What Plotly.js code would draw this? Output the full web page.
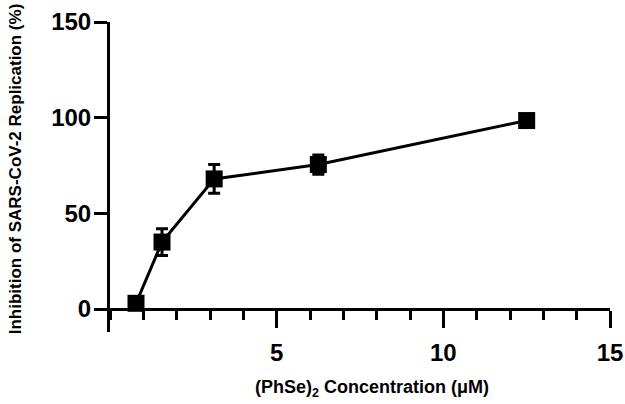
<!DOCTYPE html>
<html>
<head>
<meta charset="utf-8">
<script src="https://cdn.plot.ly/plotly-3.0.1.min.js"></script>
<style>
  html, body { margin: 0; padding: 0; background: #fff; }
  #chart { width: 625px; height: 404px; }
</style>
</head>
<body>
<div id="chart"></div>
<script>
// (PhSe)2 concentrations in uM and inhibition (%)
const conc = [0.78, 1.56, 3.125, 6.25, 12.5];
const inhibition = [3, 35, 68, 75.5, 98.5];
const errInhib = [2, 7, 7.5, 5, 3];
const xTicks = [5, 10, 15];
const yTicks = [0, 50, 100, 150];

const fontFam = "Liberation Sans, Arial, sans-serif";

const trace = {
  x: conc,
  y: inhibition,
  type: "scatter",
  mode: "lines+markers",
  line: { color: "#000", width: 3 },
  marker: { symbol: "square", size: 17, color: "#000" },
  error_y: { type: "data", array: errInhib, visible: true, color: "#000", thickness: 3, width: 6 },
  cliponaxis: false,
  showlegend: false
};

const layout = {
  width: 625,
  height: 404,
  margin: { l: 110, r: 15, t: 22, b: 72 },
  paper_bgcolor: "#fff",
  plot_bgcolor: "#fff",
  showlegend: false,
  xaxis: {
    range: [0, 15],
    anchor: "free",
    position: 12 / 162,
    showline: true, linecolor: "#000", linewidth: 3,
    showgrid: false, zeroline: false,
    tickvals: xTicks,
    ticks: "outside", ticklen: 17, tickwidth: 3, tickcolor: "#000",
    ticklabelstandoff: 4,
    minor: { dtick: 1, ticks: "outside", ticklen: 9, tickwidth: 3, tickcolor: "#000", showgrid: false },
    tickfont: { family: fontFam, size: 24, color: "#000", weight: "bold" }
  },
  yaxis: {
    range: [-12, 150],
    showline: true, linecolor: "#000", linewidth: 3,
    showgrid: false, zeroline: false,
    tickvals: yTicks,
    ticks: "outside", ticklen: 13, tickwidth: 3, tickcolor: "#000",
    ticklabelstandoff: -2,
    tickfont: { family: fontFam, size: 24, color: "#000", weight: "bold" }
  },
  annotations: [
    {
      text: "Inhibition of SARS-CoV-2 Replication (%)",
      xref: "paper", yref: "paper", x: 0, y: 0.525,
      xshift: -95, textangle: -90, showarrow: false,
      xanchor: "center", yanchor: "middle",
      font: { family: fontFam, size: 17, color: "#000", weight: "bold" }
    },
    {
      text: "(PhSe)<sub>2</sub> Concentration (μM)",
      xref: "paper", yref: "paper", x: 0.524, y: 0,
      yshift: -56, showarrow: false,
      xanchor: "center", yanchor: "middle",
      font: { family: fontFam, size: 18, color: "#000", weight: "bold" }
    }
  ]
};

Plotly.newPlot("chart", [trace], layout, { displayModeBar: false, staticPlot: true });
</script>
</body>
</html>
